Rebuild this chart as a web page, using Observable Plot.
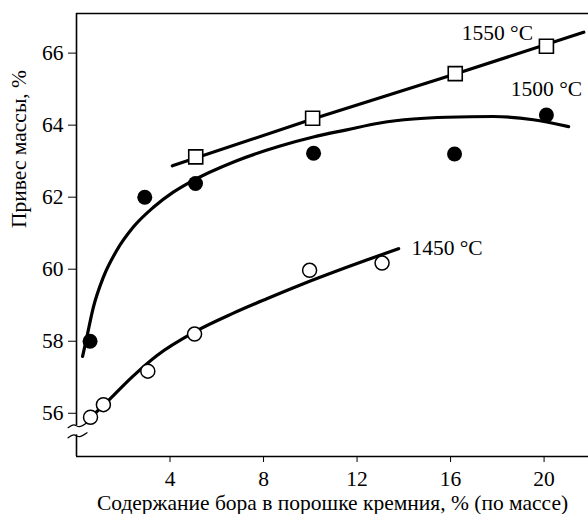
<!DOCTYPE html>
<html>
<head>
<meta charset="utf-8">
<script src="https://cdn.jsdelivr.net/npm/d3@7"></script>
<script src="https://cdn.jsdelivr.net/npm/@observablehq/plot@0.6"></script>
<style>
  body { margin: 0; background: #fff; }
  #chart { width: 588px; height: 514px; }
</style>
</head>
<body>
<div id="chart"></div>
<script>
// ---- data ----
const xTicks = [4, 8, 12, 16, 20];
const yTicks = [56, 58, 60, 62, 64, 66];

// measured points
const x1550 = [5.1, 10.1, 16.2, 20.1];
const y1550 = [63.12, 64.19, 65.43, 66.19];
const x1500 = [0.58, 2.92, 5.09, 10.14, 16.17, 20.1];
const y1500 = [58.0, 62.0, 62.38, 63.22, 63.2, 64.28];
const x1450 = [0.6, 1.15, 3.05, 5.05, 9.97, 13.07];
const y1450 = [55.89, 56.24, 57.17, 58.2, 59.97, 60.17];

// hand-drawn fitted curves
const fx1550 = [4.1, 10.1, 16.2, 21.7];
const fy1550 = [62.87, 64.17, 65.42, 66.58];
const fx1500 = [0.26, 0.44, 0.72, 1.15, 1.72, 2.43, 3.29, 4.14, 4.86, 6.8, 8.71, 10.13, 11.56, 12.98, 14.41, 15.84, 17.83, 19.54, 21.05];
const fy1500 = [57.58, 58.11, 58.94, 59.78, 60.52, 61.17, 61.72, 62.14, 62.42, 63.0, 63.42, 63.67, 63.87, 64.06, 64.17, 64.22, 64.24, 64.15, 63.96];
const fx1450 = [0.6, 1.2, 2.43, 3.43, 5.05, 6.71, 8.14, 9.6, 11.5, 13.78];
const fy1450 = [55.88, 56.25, 57.04, 57.6, 58.26, 58.78, 59.18, 59.57, 60.04, 60.57];

const seriesLabels = ["1550 °C", "1500 °C", "1450 °C"];
const labelX = [18.0, 20.1, 15.85];
const labelY = [66.55, 64.99, 60.58];

const xLabel = "Содержание бора в порошке кремния, % (по массе)";
const yLabel = "Привес массы, %";

const xDomain = [0, 21.9];
const yDomain = [54.8, 67.1];

// axis-break marks on the y axis
const breakX = [-0.36, -0.12, 0.12, 0.45];
const breakUpper = [55.6, 55.68, 55.63, 55.74];
const breakLower = [55.32, 55.4, 55.35, 55.46];
const breakGap = [55.4, 55.66];

// ---- build tables ----
const zip = (xs, ys) => xs.map((x, i) => ({x, y: ys[i]}));
const pts1550 = zip(x1550, y1550);
const pts1500 = zip(x1500, y1500);
const pts1450 = zip(x1450, y1450);
const fit1550 = zip(fx1550, fy1550);
const fit1500 = zip(fx1500, fy1500);
const fit1450 = zip(fx1450, fy1450);
const labels = seriesLabels.map((t, i) => ({t, x: labelX[i], y: labelY[i]}));

const font = "'Liberation Serif', 'Times New Roman', serif";
const fs = 21.5;

const chart = Plot.plot({
  width: 588,
  height: 514,
  marginLeft: 76,
  marginRight: 0,
  marginTop: 13,
  marginBottom: 58,
  style: {fontFamily: font, fontSize: fs + "px", color: "#000", background: "#fff"},
  x: {domain: xDomain},
  y: {domain: yDomain},
  marks: [
    Plot.axisX({ticks: xTicks, tickSize: 6, tickPadding: 8, label: null, fontSize: fs}),
    Plot.axisY({ticks: yTicks, tickSize: 8, tickPadding: 5, label: null, fontSize: fs}),
    // frame lines (top, bottom, left)
    Plot.ruleY([yDomain[1]], {stroke: "#000", strokeWidth: 1.6}),
    Plot.ruleY([yDomain[0]], {stroke: "#000", strokeWidth: 1.6}),
    Plot.ruleX([0], {y1: yDomain[0], y2: yDomain[1], stroke: "#000", strokeWidth: 1.6}),
    // axis break
    Plot.ruleX([0], {y1: breakGap[0], y2: breakGap[1], stroke: "#fff", strokeWidth: 4}),
    Plot.line(zip(breakX, breakUpper), {x: "x", y: "y", curve: "catmull-rom", stroke: "#000", strokeWidth: 1.2, clip: false}),
    Plot.line(zip(breakX, breakLower), {x: "x", y: "y", curve: "catmull-rom", stroke: "#000", strokeWidth: 1.2, clip: false}),
    // fitted curves
    Plot.line(fit1550, {x: "x", y: "y", curve: "monotone-x", stroke: "#000", strokeWidth: 3.2}),
    Plot.line(fit1500, {x: "x", y: "y", curve: "monotone-x", stroke: "#000", strokeWidth: 3.2}),
    Plot.line(fit1450, {x: "x", y: "y", curve: "monotone-x", stroke: "#000", strokeWidth: 3.2}),
    // markers
    Plot.dot(pts1550, {x: "x", y: "y", symbol: "square", r: 7.9, fill: "#fff", stroke: "#000", strokeWidth: 1.6}),
    Plot.dot(pts1500, {x: "x", y: "y", r: 7.5, fill: "#000", stroke: "#000", strokeWidth: 0}),
    Plot.dot(pts1450, {x: "x", y: "y", r: 7, fill: "#fff", stroke: "#000", strokeWidth: 1.5}),
    // series labels
    Plot.text(labels, {x: "x", y: "y", text: "t", fontSize: fs, fill: "#000"}),
    // axis titles
    Plot.text([xLabel], {frameAnchor: "bottom", dy: 53, fontSize: fs, fill: "#000"}),
    Plot.text([yLabel], {frameAnchor: "left", rotate: -90, dx: -57, dy: -7, fontSize: fs, fill: "#000"})
  ]
});
document.getElementById("chart").appendChild(chart);
</script>
</body>
</html>
